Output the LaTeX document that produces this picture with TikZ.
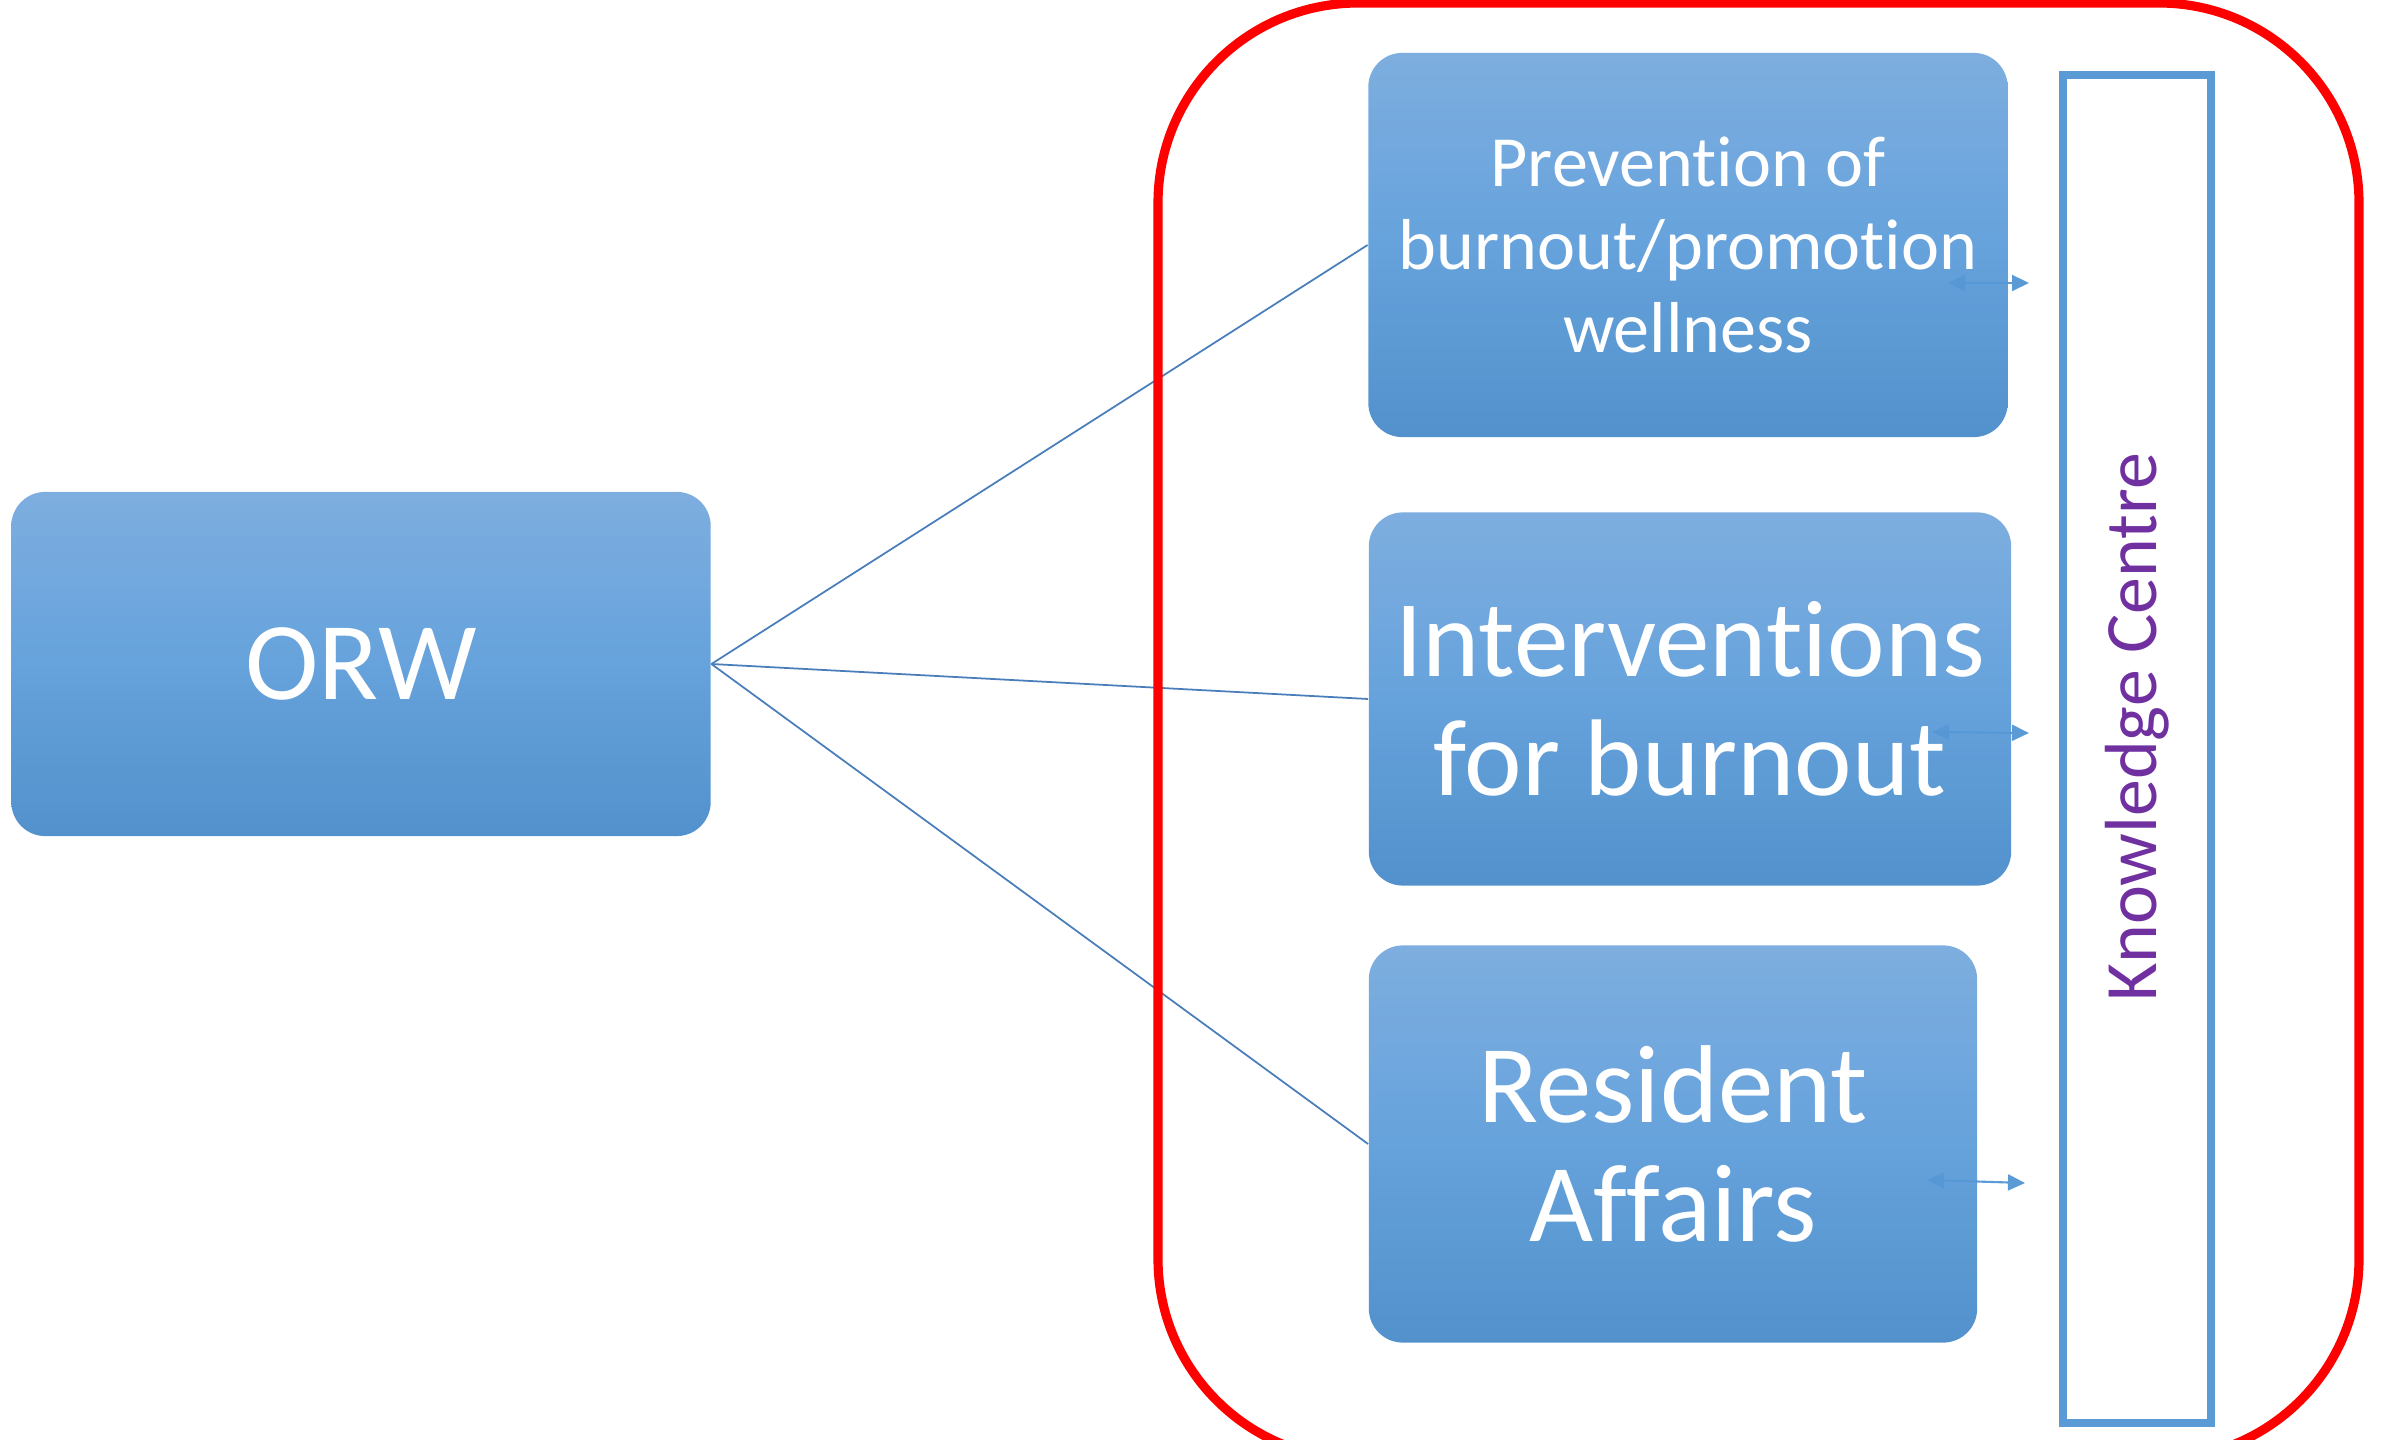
\documentclass[tikz,border=0pt]{standalone}
\usepackage{fontspec}
\setmainfont[Ligatures={NoCommon,NoRare}]{Carlito}
\usetikzlibrary{arrows.meta}
\definecolor{boxtop}{HTML}{74A8DD}
\definecolor{boxmid}{HTML}{5A9BD9}
\definecolor{boxbot}{HTML}{4589C8}
\definecolor{linkblue}{HTML}{4A7EBB}
\definecolor{kcblue}{HTML}{5B9BD5}
\definecolor{kcpurple}{HTML}{7030A0}
\tikzset{bluebox/.style={rectangle, rounded corners=0.34cm, top color=boxtop, bottom color=boxbot, middle color=boxmid, fill opacity=0.93, text opacity=1, text=white, align=center, inner sep=0pt}}
\tikzset{link/.style={draw=linkblue, line width=0.5pt}}
\tikzset{kcarrow/.style={draw=kcblue, line width=0.6pt, {Triangle[length=0.17cm,width=0.16cm]}-{Triangle[length=0.17cm,width=0.16cm]}}}
\tikzset{kcbox/.style={draw=kcblue, line width=2.3pt, rotate=90}}
\tikzset{kctext/.style={rotate=90, text=kcpurple, inner sep=0pt}}

\begin{document}
\begin{tikzpicture}[x=0.01cm, y=-0.01cm]
\useasboundingbox (0,0) rectangle (2396,1440);

% arrows towards the knowledge centre
\coordinate (a1s) at (1948,283); \coordinate (a1e) at (2029,283);
\coordinate (a2s) at (1932,732); \coordinate (a2e) at (2029,733);
\coordinate (a3s) at (1927,1180); \coordinate (a3e) at (2025,1183);
\draw[kcarrow] (a1s) -- (a1e);
\draw[kcarrow] (a2s) -- (a2e);
\draw[kcarrow] (a3s) -- (a3e);

\node[bluebox, minimum width=6.99cm, minimum height=3.44cm, font=\fontsize{31.5}{36}\selectfont] (orw) at (361,664) {ORW};

\node[bluebox, minimum width=6.39cm, minimum height=3.84cm, font=\fontsize{20.5}{23.6}\selectfont] (prev) at (1688,245) {Prevention of\\burnout/promot\kern0pt ion\\wellness};
\node[bluebox, minimum width=6.42cm, minimum height=3.73cm, font=\fontsize{31}{34}\selectfont] (interv) at (1690,699) {Intervent\kern0pt ions\\for burnout};
\node[bluebox, minimum width=6.08cm, minimum height=3.97cm, font=\fontsize{31.5}{34}\selectfont] (resid) at (1673,1144) {Resident\\Affairs};

\draw[link] (orw.east) -- (prev.west);
\draw[link] (orw.east) -- (interv.west);
\draw[link] (orw.east) -- (resid.west);

% knowledge centre
\node[kcbox, minimum width=13.48cm, minimum height=1.48cm] (know) at (2137,749) {};
\node[kctext, font=\fontsize{21}{24}\selectfont] (knowlabel) at (2137,727) {Knowledge Centre};

% red frame
\draw[red, line width=2.6pt, rounded corners=2cm] (1158,3) rectangle (2359,1459);

\end{tikzpicture}
\end{document}
